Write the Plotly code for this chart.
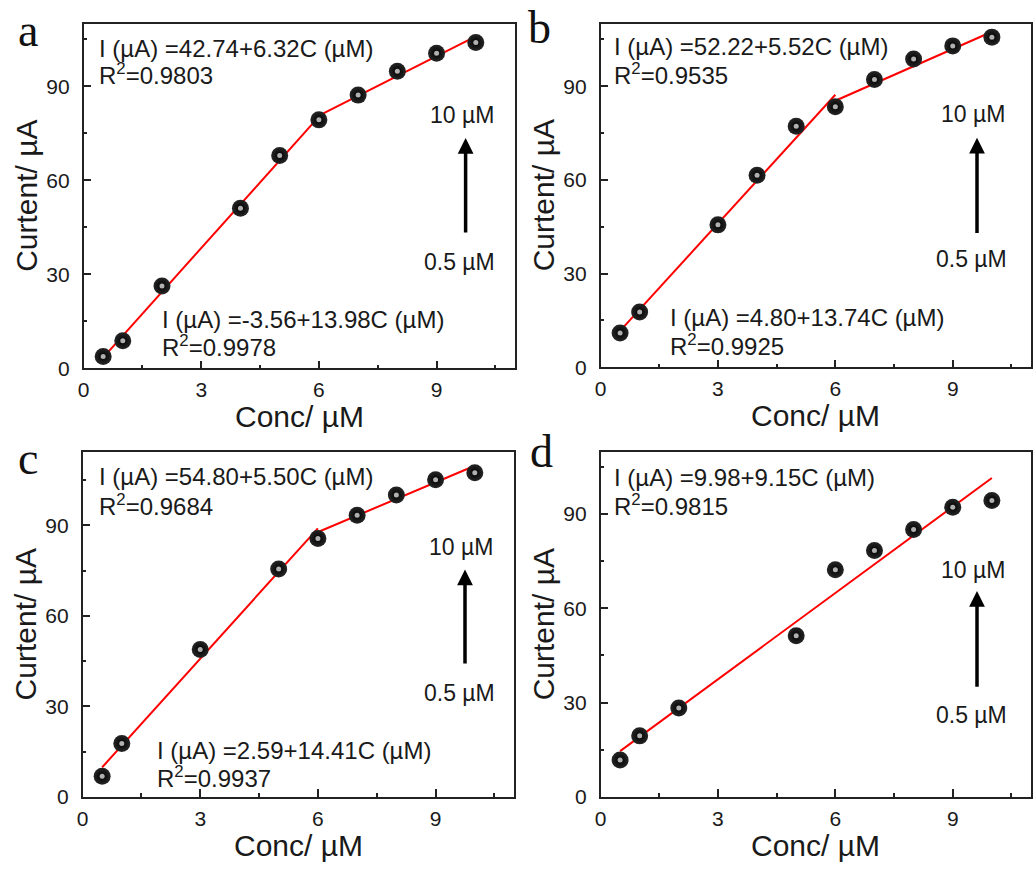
import plotly.graph_objects as go

# ---------------- data ----------------
conc_a = [0.5, 1, 2, 4, 5, 6, 7, 8, 9, 10]
cur_a = [3.8, 8.8, 26.3, 51.1, 67.9, 79.3, 87.2, 94.8, 100.6, 104.0]
conc_b = [0.5, 1, 3, 4, 5, 6, 7, 8, 9, 10]
cur_b = [11.0, 17.7, 45.6, 61.5, 77.2, 83.4, 92.1, 98.7, 102.9, 105.7]
conc_c = [0.5, 1, 3, 5, 6, 7, 8, 9, 10]
cur_c = [6.8, 17.7, 48.9, 75.6, 85.7, 93.4, 100.1, 105.2, 107.5]
conc_d = [0.5, 1, 2, 5, 6, 7, 8, 9, 10]
cur_d = [11.7, 19.4, 28.3, 51.3, 72.3, 78.4, 85.1, 92.2, 94.3]

# linear fits: (intercept, slope, c_start, c_end)
fit_a = [(-3.56, 13.98, 0.5, 6.0), (42.74, 6.32, 6.0, 10.0)]
fit_b = [(4.80, 13.74, 0.5, 6.0), (52.22, 5.52, 5.87, 10.0)]
fit_c = [(2.59, 14.41, 0.5, 6.0), (54.80, 5.50, 5.9, 10.0)]
fit_d = [(9.98, 9.15, 0.5, 10.0)]

# equation labels: (text, x, y)
eq_a = [("I (µA) =42.74+6.32C (µM)", 0.35, 102.2), ("R<sup>2</sup>=0.9803", 0.35, 93.8),
        ("I (µA) =-3.56+13.98C (µM)", 1.94, 15.6), ("R<sup>2</sup>=0.9978", 1.94, 7.2)]
eq_b = [("I (µA) =52.22+5.52C (µM)", 0.30, 102.8), ("R<sup>2</sup>=0.9535", 0.30, 93.9),
        ("I (µA) =4.80+13.74C (µM)", 1.73, 15.9), ("R<sup>2</sup>=0.9925", 1.73, 7.0)]
eq_c = [("I (µA) =54.80+5.50C (µM)", 0.37, 106.1), ("R<sup>2</sup>=0.9684", 0.37, 96.8),
        ("I (µA) =2.59+14.41C (µM)", 1.85, 15.4), ("R<sup>2</sup>=0.9937", 1.85, 6.7)]
eq_d = [("I (µA) =9.98+9.15C (µM)", 0.30, 101.8), ("R<sup>2</sup>=0.9815", 0.30, 92.8)]

# arrow: (x, y_tail, y_head, y_top_label, y_bottom_label)
arrow_a = (9.74, 42.9, 73.5, 80.7, 33.8)
arrow_b = (9.62, 42.5, 73.5, 81.2, 34.7)
arrow_c = (9.75, 43.7, 75.4, 83.0, 34.4)
arrow_d = (9.62, 34.6, 65.5, 72.3, 25.9)
arrow_labels = ("10 µM", "0.5 µM")

letters = ["a", "b", "c", "d"]
y_ranges = [[0, 110], [0, 110], [0, 114.3], [0, 109.7]]
x_range = [0, 11]
x_title = "Conc/ µM"
y_title = "Curtent/ µA"

W, H = 1033, 871
# plot-area pixel boxes (left, right, top, bottom)
boxes = [(78, 512, 24, 373), (598, 1031, 24, 372), (77, 511, 458, 807), (598, 1031, 458, 807)]
letter_pos = [(22, 31), (537, 28), (22, 464), (539, 457)]

FONT = "Arial, Liberation Sans, sans-serif"
TXT = "#1a1a1a"

panels = [
    (conc_a, cur_a, fit_a, eq_a, arrow_a),
    (conc_b, cur_b, fit_b, eq_b, arrow_b),
    (conc_c, cur_c, fit_c, eq_c, arrow_c),
    (conc_d, cur_d, fit_d, eq_d, arrow_d),
]

fig = go.Figure()
annotations = []
layout = {}

for i, (cx, cy, fits, eqs, arr) in enumerate(panels):
    n = "" if i == 0 else str(i + 1)
    xa, ya = "x" + n, "y" + n
    l, r, t, b = boxes[i]
    layout["xaxis" + n] = dict(
        domain=[l / W, r / W], range=x_range, anchor=ya,
        tickmode="array", tickvals=[0, 3, 6, 9], ticks="inside", ticklen=8, tickwidth=1.5,
        tickcolor="#222", minor=dict(dtick=1.5, ticks="inside", ticklen=4, tickwidth=1.5, tickcolor="#222"),
        showline=True, linecolor="#222", linewidth=1.5, mirror=True, showgrid=False, zeroline=False,
        tickfont=dict(family=FONT, size=21, color=TXT), ticklabelstandoff=2,
    )
    layout["yaxis" + n] = dict(
        domain=[1 - b / H, 1 - t / H], range=y_ranges[i], anchor=xa,
        tickmode="array", tickvals=[0, 30, 60, 90], ticks="inside", ticklen=8, tickwidth=1.5,
        tickcolor="#222", minor=dict(dtick=15, ticks="inside", ticklen=4, tickwidth=1.5, tickcolor="#222"),
        showline=True, linecolor="#222", linewidth=1.5, mirror=True, showgrid=False, zeroline=False,
        tickfont=dict(family=FONT, size=21, color=TXT), ticklabelstandoff=8,
    )
    # axis titles
    annotations.append(dict(text=x_title, x=(l + r) / 2 / W, y=1 - (b + 49) / H, xref="paper",
                            yref="paper", xanchor="center", yanchor="middle", showarrow=False,
                            font=dict(family=FONT, size=30, color=TXT)))
    annotations.append(dict(text=y_title, x=(l - 57) / W, y=1 - (t + b) / 2 / H, xref="paper",
                            yref="paper", xanchor="center", yanchor="middle", showarrow=False,
                            textangle=-90, font=dict(family=FONT, size=30, color=TXT)))
    # fit lines
    for (a0, k, c0, c1) in fits:
        fig.add_trace(go.Scatter(x=[c0, c1], y=[a0 + k * c0, a0 + k * c1], mode="lines",
                                 line=dict(color="#ff0000", width=2), xaxis=xa, yaxis=ya,
                                 showlegend=False, hoverinfo="skip"))
    # data markers (sphere look)
    fig.add_trace(go.Scatter(x=cx, y=cy, mode="markers", xaxis=xa, yaxis=ya, showlegend=False,
                             marker=dict(size=17, color="#262626", line=dict(width=0),
                                         gradient=dict(type="radial", color="#000000"))))
    fig.add_trace(go.Scatter(x=cx, y=cy, mode="markers", xaxis=xa, yaxis=ya, showlegend=False,
                             hoverinfo="skip",
                             marker=dict(size=5, color="#b0b0b0", line=dict(width=0))))
    # equations
    for (txt, ex, ey) in eqs:
        annotations.append(dict(text=txt, x=ex, y=ey, xref=xa, yref=ya, xanchor="left",
                                yanchor="middle", showarrow=False,
                                font=dict(family=FONT, size=24, color=TXT)))
    # arrow
    ax_, y0, y1, yt, yb = arr
    annotations.append(dict(text="", x=ax_, y=y1, ax=ax_, ay=y0, xref=xa, yref=ya,
                            axref=xa, ayref=ya, showarrow=True, arrowhead=2, arrowsize=0.9,
                            arrowwidth=3.5, arrowcolor="#000000"))
    annotations.append(dict(text=arrow_labels[0], x=ax_ - 0.1, y=yt, xref=xa, yref=ya, showarrow=False,
                            xanchor="center", yanchor="middle",
                            font=dict(family=FONT, size=23, color=TXT)))
    annotations.append(dict(text=arrow_labels[1], x=ax_ - 0.15, y=yb, xref=xa, yref=ya, showarrow=False,
                            xanchor="center", yanchor="middle",
                            font=dict(family=FONT, size=23, color=TXT)))
    # panel letter
    lx, ly = letter_pos[i]
    annotations.append(dict(text=letters[i], x=lx / W, y=1 - ly / H, xref="paper", yref="paper",
                            xanchor="center", yanchor="middle", showarrow=False,
                            font=dict(family="Liberation Serif, Times New Roman, serif", size=46,
                                      color="#111")))

fig.update_layout(**layout)
fig.update_layout(width=W, height=H, margin=dict(l=0, r=0, t=0, b=0),
                  paper_bgcolor="white", plot_bgcolor="white", annotations=annotations,
                  showlegend=False)

fig.write_html("out.html")
